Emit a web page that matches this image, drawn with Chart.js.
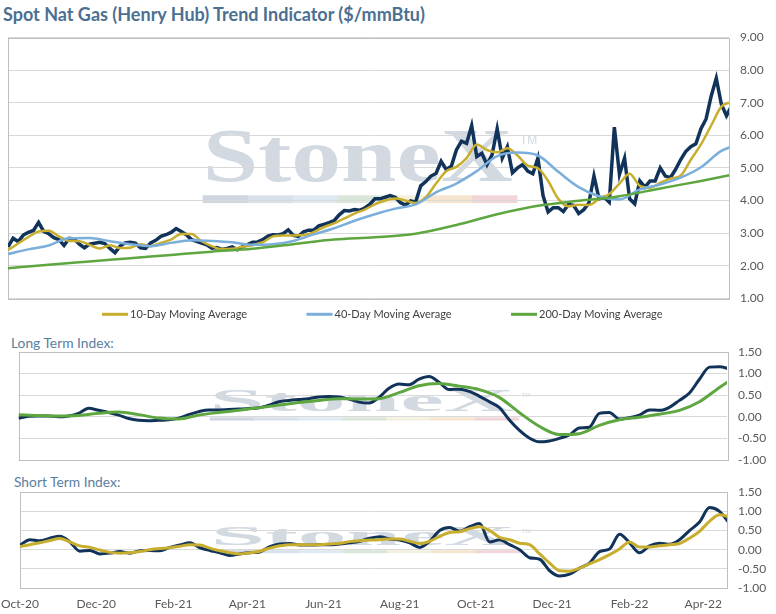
<!DOCTYPE html>
<html>
<head>
<meta charset="utf-8">
<script src="https://cdn.jsdelivr.net/npm/chart.js@4.4.0/dist/chart.umd.min.js"></script>
<style>
  body { margin: 0; background: #fff; width: 776px; height: 614px; overflow: hidden; position: relative; font-family: Lato, sans-serif; }
  .panel { position: absolute; left: 0; width: 776px; }
  #mainTitle { position: absolute; left: 3px; top: 4px; font-size: 18px; font-weight: bold; color: #4b7091; line-height: 20px; white-space: nowrap; }
  .sub { position: absolute; font-size: 13.8px; color: #5a7e9e; line-height: 16px; white-space: nowrap; }
</style>
</head>
<body>
<div id="mainTitle">Spot Nat Gas (Henry Hub) Trend Indicator ($/mmBtu)</div>
<div class="panel" style="top:28px;height:302px"><canvas id="chartPrice"></canvas></div>
<div class="sub" style="left:11px;top:335px">Long Term Index:</div>
<div class="panel" style="top:340px;height:130px"><canvas id="chartLong"></canvas></div>
<div class="sub" style="left:14px;top:474px">Short Term Index:</div>
<div class="panel" style="top:485px;height:129px"><canvas id="chartShort"></canvas></div>

<script>
// x axis is calendar days counted from 1 Oct 2020
const X_MAX = 566;
const monthTickDays = [0, 61, 123, 182, 243, 304, 365, 426, 488, 547];
const monthTickLabels = ['Oct-20', 'Dec-20', 'Feb-21', 'Apr-21', 'Jun-21', 'Aug-21', 'Oct-21', 'Dec-21', 'Feb-22', 'Apr-22'];

// spot price, one reading every 4 days
const SPOT_STEP = 4;
const spotPrice = [
  2.58, 2.84, 2.74, 2.94, 3.02, 3.08, 3.33, 3.05, 2.98, 2.86,
  2.80, 2.62, 2.84, 2.82, 2.66, 2.55, 2.66, 2.69, 2.72, 2.68,
  2.53, 2.40, 2.60, 2.70, 2.72, 2.69, 2.55, 2.53, 2.70, 2.78,
  2.90, 2.95, 3.02, 3.14, 3.05, 2.95, 2.80, 2.75, 2.69, 2.64,
  2.54, 2.56, 2.50, 2.53, 2.58, 2.49, 2.58, 2.65, 2.72, 2.73,
  2.80, 2.91, 2.95, 2.94, 2.98, 3.10, 2.93, 2.90, 3.04, 3.09,
  3.09, 3.22, 3.27, 3.32, 3.38, 3.56, 3.69, 3.68, 3.72, 3.70,
  3.77, 3.88, 4.05, 4.05, 4.10, 4.15, 4.10, 3.94, 3.86, 3.99,
  3.95, 4.45, 4.58, 4.75, 4.83, 5.20, 4.95, 5.05, 5.55, 5.82,
  5.75, 6.30, 5.35, 5.45, 5.10, 5.40, 6.20, 5.30, 5.65, 4.85,
  5.00, 5.10, 4.90, 4.82, 5.30, 4.15, 3.65, 3.78, 3.78, 3.66,
  3.88, 3.85, 3.60, 3.72, 3.92, 4.75, 4.05, 4.10, 3.95, 6.25,
  4.80, 5.30, 4.05, 3.90, 4.60, 4.41, 4.60, 4.60, 5.00, 4.75,
  4.70, 4.95, 5.25, 5.50, 5.65, 5.74, 6.20, 6.50, 7.20, 7.75,
  6.95, 6.60, 6.90
];

// moving averages
const MA10_STEP = 8;
const ma10 = [
  2.48, 2.68, 2.88, 3.05, 3.07, 2.90, 2.76, 2.75, 2.64, 2.53,
  2.63, 2.54, 2.55, 2.66, 2.60, 2.70, 2.80, 2.97, 2.97, 2.75,
  2.60, 2.51, 2.52, 2.58, 2.63, 2.72, 2.90, 2.93, 2.93, 2.94,
  3.03, 3.18, 3.30, 3.45, 3.60, 3.72, 3.88, 4.00, 4.06, 4.00,
  3.92, 4.10, 4.52, 4.90, 5.03, 5.30, 5.72, 5.55, 5.48, 5.60,
  5.38, 5.07, 4.99, 4.60, 4.05, 3.82, 3.87, 3.86, 4.05, 4.20,
  4.52, 4.82, 4.45, 4.39, 4.54, 4.67, 4.76, 5.25, 5.72, 6.30,
  6.88, 7.02
];
const MA40_STEP = 16;
const ma40 = [
  2.36, 2.50, 2.62, 2.84, 2.85, 2.75, 2.66, 2.60, 2.70, 2.78,
  2.76, 2.72, 2.64, 2.66, 2.76, 2.96, 3.15, 3.38, 3.58, 3.75,
  3.88, 4.25, 4.52, 4.90, 5.36, 5.47, 5.38, 4.88, 4.41, 4.13,
  4.03, 4.34, 4.49, 4.70, 5.02, 5.52, 5.75
];
const MA200_STEP = 32;
const ma200 = [
  1.92, 2.03, 2.13, 2.23, 2.33, 2.43, 2.52, 2.66, 2.80, 2.87,
  2.98, 3.25, 3.58, 3.84, 3.99, 4.13, 4.37, 4.60, 4.85
];

// long term index
const LONG_STEP = 8;
const longIndex = [
  -0.03, 0.01, 0.02, 0.02, 0.00, 0.02, 0.08, 0.20, 0.15, 0.10,
  0.04, -0.04, -0.08, -0.09, -0.08, -0.07, -0.03, 0.05, 0.12, 0.16,
  0.16, 0.17, 0.18, 0.19, 0.21, 0.27, 0.35, 0.38, 0.40, 0.42,
  0.46, 0.47, 0.46, 0.41, 0.34, 0.32, 0.45, 0.66, 0.76, 0.74,
  0.87, 0.93, 0.80, 0.63, 0.64, 0.59, 0.48, 0.35, 0.22, -0.07,
  -0.31, -0.49, -0.58, -0.56, -0.50, -0.42, -0.26, -0.24, 0.08, 0.10,
  -0.05, -0.02, 0.04, 0.16, 0.15, 0.22, 0.38, 0.55, 0.87, 1.15,
  1.16, 1.11
];
const LONG_SIGNAL_STEP = 16;
const longSignal = [
  0.05, 0.03, 0.02, 0.03, 0.08, 0.11, 0.05, -0.03, -0.05, 0.04,
  0.10, 0.15, 0.21, 0.27, 0.33, 0.38, 0.42, 0.41, 0.42, 0.56,
  0.72, 0.77, 0.71, 0.63, 0.45, 0.10, -0.22, -0.41, -0.39, -0.20,
  -0.07, -0.01, 0.06, 0.15, 0.35, 0.68, 0.98
];

// short term index
const SHORT_STEP = 8;
const shortIndex = [
  0.12, 0.26, 0.23, 0.30, 0.35, 0.20, -0.04, -0.02, -0.11, -0.09,
  -0.05, -0.09, -0.03, -0.02, -0.03, 0.06, 0.12, 0.18, 0.05, -0.02,
  -0.08, -0.15, -0.11, -0.08, -0.06, 0.08, 0.15, 0.16, 0.12, 0.12,
  0.13, 0.13, 0.15, 0.18, 0.22, 0.30, 0.34, 0.28, 0.25, 0.18,
  0.06, 0.22, 0.50, 0.58, 0.48, 0.60, 0.68, 0.20, 0.26, 0.13,
  0.00, -0.21, -0.25, -0.55, -0.69, -0.64, -0.48, -0.35, -0.05, 0.02,
  0.40, 0.18, -0.08, 0.10, 0.17, 0.14, 0.26, 0.50, 0.72, 1.10,
  1.00, 0.68
];
const shortSignal = [
  0.08, 0.13, 0.18, 0.24, 0.29, 0.20, 0.10, 0.06, -0.01, -0.07,
  -0.09, -0.08, -0.05, 0.00, 0.03, 0.05, 0.09, 0.13, 0.12, 0.04,
  -0.03, -0.08, -0.11, -0.08, -0.04, 0.04, 0.10, 0.13, 0.13, 0.13,
  0.13, 0.15, 0.17, 0.21, 0.23, 0.25, 0.26, 0.28, 0.28, 0.22,
  0.16, 0.22, 0.35, 0.45, 0.47, 0.55, 0.60, 0.50, 0.32, 0.26,
  0.17, 0.13, -0.11, -0.35, -0.55, -0.56, -0.48, -0.37, -0.26, -0.13,
  0.02, 0.20, 0.07, 0.07, 0.10, 0.13, 0.16, 0.30, 0.48, 0.74,
  0.91, 0.86
];

const NAVY = '#11335a';
const GOLD = '#c8ae2e';
const BLUE = '#7aaedb';
const GREEN = '#5ea63f';
const TICK_COLOR = '#595959';
const GRID_COLOR = '#d9d9d9';
const BAR_COLORS = ['#cfd6df', '#d8e0e9', '#dfe9f2', '#dae6da', '#f3f0de', '#f5e5cf', '#f2d5d8'];

function toPoints(values, step) {
  return values.map((v, i) => ({ x: i * step, y: v }));
}

function lineSet(label, values, step, color, width, order, smooth, inLegend) {
  return {
    label,
    data: toPoints(values, step),
    borderColor: color,
    backgroundColor: color,
    borderWidth: width,
    pointRadius: 0,
    cubicInterpolationMode: smooth ? 'monotone' : 'default',
    tension: 0,
    order,
    inLegend
  };
}

// faint company mark behind the lines
const watermark = {
  id: 'watermark',
  beforeDraw(chart) {
    const { ctx, chartArea: a } = chart;
    const left = a.left + a.width * 0.27;
    const right = a.left + a.width * 0.70;
    const capTop = a.top + a.height * 0.36;
    const base = a.top + a.height * 0.55;
    const size = (base - capTop) / 0.66;
    ctx.save();
    ctx.font = `bold ${size}px "Liberation Serif", serif`;
    ctx.fillStyle = '#d2d9e1';
    const w = ctx.measureText('StoneX').width;
    ctx.translate(left, base);
    ctx.scale((right - left) / w, 1);
    ctx.fillText('StoneX', 0, 0);
    ctx.restore();

    ctx.save();
    ctx.font = `${Math.max(size * 0.16, 6)}px "Liberation Sans", sans-serif`;
    ctx.fillStyle = '#d2d9e1';
    ctx.textBaseline = 'top';
    ctx.fillText('TM', right + a.width * 0.01, capTop + size * 0.05);
    ctx.restore();

    const barTop = a.top + a.height * 0.605;
    const barH = Math.max(a.height * 0.03, 3);
    const segW = (right + a.width * 0.006 - left) / BAR_COLORS.length;
    BAR_COLORS.forEach((c, i) => {
      ctx.fillStyle = c;
      ctx.fillRect(left + i * segW, barTop, segW + 0.5, barH);
    });
  }
};

// light frame round the plot area
const plotFrame = {
  id: 'plotFrame',
  beforeDatasetsDraw(chart) {
    const { ctx, chartArea: a } = chart;
    ctx.save();
    ctx.strokeStyle = '#bfbfbf';
    ctx.lineWidth = 1;
    ctx.strokeRect(Math.round(a.left) + 0.5, Math.round(a.top) + 0.5, Math.round(a.width), Math.round(a.height));
    ctx.restore();
  }
};

// legend entries in equal slots, as the spreadsheet lays them out
const LEGEND_OFFSET = 94;
const LEGEND_SLOT = 204.5;
const slotLegend = {
  id: 'slotLegend',
  afterDraw(chart) {
    const { ctx, chartArea: a } = chart;
    const y = a.bottom + 16;
    ctx.save();
    ctx.font = '11px Lato';
    ctx.textBaseline = 'middle';
    chart.data.datasets.filter(d => d.inLegend).forEach((d, i) => {
      const x = a.left + LEGEND_OFFSET + i * LEGEND_SLOT;
      ctx.fillStyle = d.borderColor;
      ctx.fillRect(x, y - 1.5, 26, 3);
      ctx.fillStyle = '#404040';
      ctx.fillText(d.label, x + 28, y);
    });
    ctx.restore();
  }
};

const tickFont = { family: 'Lato', size: 12 };
const clearTick = 'rgba(0,0,0,0)';

function rightAxis(min, max, step, width) {
  return {
    position: 'right',
    min, max,
    ticks: { stepSize: step, color: TICK_COLOR, font: tickFont, padding: 0, callback: v => v.toFixed(2) },
    grid: { color: GRID_COLOR, drawTicks: true, tickLength: 11, tickColor: clearTick },
    border: { display: false },
    afterFit(s) { s.width = width; }
  };
}

const hiddenX = { type: 'linear', min: 0, max: X_MAX, display: false };

const baseOptions = {
  responsive: true,
  maintainAspectRatio: false,
  animation: false,
  events: []
};

new Chart(document.getElementById('chartPrice'), {
  type: 'line',
  data: {
    datasets: [
      lineSet('Spot', spotPrice, SPOT_STEP, NAVY, 3.5, 4, false, false),
      lineSet('10-Day Moving Average', ma10, MA10_STEP, GOLD, 2.5, 3, true, true),
      lineSet('40-Day Moving Average', ma40, MA40_STEP, BLUE, 2.5, 2, true, true),
      lineSet('200-Day Moving Average', ma200, MA200_STEP, GREEN, 2.5, 1, true, true)
    ]
  },
  options: {
    ...baseOptions,
    layout: { padding: { left: 8, top: 9.5, right: 0, bottom: 31.7 } },
    scales: { x: hiddenX, y: rightAxis(1, 9, 1, 47) },
    plugins: { legend: { display: false }, tooltip: { enabled: false } }
  },
  plugins: [watermark, plotFrame, slotLegend]
});

new Chart(document.getElementById('chartLong'), {
  type: 'line',
  data: {
    datasets: [
      lineSet('Long Term Index', longIndex, LONG_STEP, NAVY, 3, 2, true, false),
      lineSet('Long Term Signal', longSignal, LONG_SIGNAL_STEP, GREEN, 3, 1, true, false)
    ]
  },
  options: {
    ...baseOptions,
    layout: { padding: { left: 18.5, top: 12, right: 0, bottom: 10 } },
    scales: { x: hiddenX, y: rightAxis(-1, 1.5, 0.5, 49) },
    plugins: { legend: { display: false }, tooltip: { enabled: false } }
  },
  plugins: [watermark, plotFrame]
});

new Chart(document.getElementById('chartShort'), {
  type: 'line',
  data: {
    datasets: [
      lineSet('Short Term Index', shortIndex, SHORT_STEP, NAVY, 3, 2, true, false),
      lineSet('Short Term Signal', shortSignal, SHORT_STEP, GOLD, 3, 1, true, false)
    ]
  },
  options: {
    ...baseOptions,
    layout: { padding: { left: 18.5, top: 7, right: 0, bottom: 0 } },
    scales: {
      x: {
        type: 'linear',
        min: 0,
        max: X_MAX,
        afterBuildTicks(s) { s.ticks = monthTickDays.map(v => ({ value: v })); },
        ticks: {
          autoSkip: false,
          maxRotation: 0,
          color: TICK_COLOR,
          font: tickFont,
          padding: 1,
          callback: (v, i) => monthTickLabels[i]
        },
        grid: { display: true, drawOnChartArea: false, drawTicks: true, tickLength: 8, tickColor: clearTick },
        border: { display: false },
        afterFit(s) { s.height = 26; }
      },
      y: rightAxis(-1, 1.5, 0.5, 49)
    },
    plugins: { legend: { display: false }, tooltip: { enabled: false } }
  },
  plugins: [watermark, plotFrame]
});
</script>
</body>
</html>
